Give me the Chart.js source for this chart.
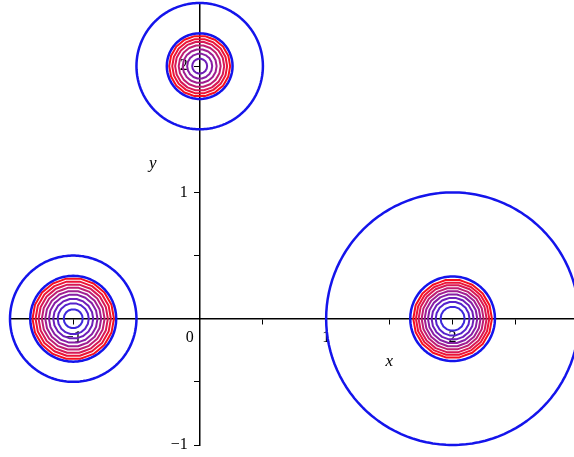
<!DOCTYPE html>
<html>
<head>
<meta charset="utf-8">
<script src="https://cdn.jsdelivr.net/npm/chart.js@4/dist/chart.umd.min.js"></script>
<style>
  html, body { margin: 0; padding: 0; background: #ffffff; }
  #c { display: block; }
</style>
</head>
<body>
<canvas id="c" width="574" height="457"></canvas>
<script>
// ---- data ----
const centersX = [0, -1, 2];
const centersY = [2, 0, 0];
const outerRadii = [0.5, 0.5, 1.0];           // large blue circles
const innerRadii = [0.26, 0.34, 0.335];       // small blue circles
// contour radii around each centre (innermost first)
const contourRadiiA = [0.059, 0.099, 0.134, 0.166, 0.194, 0.217, 0.241];               // around (0,2)
const contourRadiiB = [0.075, 0.123, 0.158, 0.192, 0.221, 0.248, 0.274, 0.298, 0.322]; // around (-1,0)
const contourRadiiC = [0.095, 0.134, 0.166, 0.195, 0.221, 0.245, 0.269, 0.290, 0.311]; // around (2,0)
const contourLevelStart = [2, 0, 0];          // first contour level reached by each peak
const levelColors = ["rgb(60,40,220)", "rgb(85,35,205)", "rgb(110,30,185)", "rgb(135,30,165)",
  "rgb(160,30,145)", "rgb(190,30,115)", "rgb(215,25,85)", "rgb(235,20,55)", "rgb(245,15,30)"];
const xTickLabels = { "-1": "\u22121", "0": "0\u00a0\u00a0\u00a0\u00a0\u00a0", "1": "1", "2": "2" };
const yTickLabels = { "-1": "\u22121\u00a0\u00a0\u00a0", "1": "1\u00a0\u00a0\u00a0", "2": "2\u00a0\u00a0\u00a0" };
const xAxisTitle = "x";
const yAxisTitle = "y";

// ---- geometry helpers ----
function circlePoints(cx, cy, r, n) {
  const pts = [];
  for (let i = 0; i <= n + 1; i++) {
    const t = (i / n) * 2 * Math.PI;
    pts.push({ x: cx + r * Math.cos(t), y: cy + r * Math.sin(t) });
  }
  return pts;
}

const datasets = [];
const blue = "rgb(20,20,235)";
for (let k = 0; k < centersX.length; k++) {
  datasets.push({ data: circlePoints(centersX[k], centersY[k], outerRadii[k], 120),
    borderColor: blue, borderWidth: 2.5, showLine: true, pointRadius: 0, clip: false });
}
for (let k = 0; k < centersX.length; k++) {
  datasets.push({ data: circlePoints(centersX[k], centersY[k], innerRadii[k], 60),
    borderColor: blue, borderWidth: 2.5, showLine: true, pointRadius: 0, clip: false });
}
const contourSets = [contourRadiiA, contourRadiiB, contourRadiiC];
for (let k = 0; k < centersX.length; k++) {
  contourSets[k].forEach((r, i) => {
    datasets.push({ data: circlePoints(centersX[k], centersY[k], r, 18),
      borderColor: levelColors[contourLevelStart[k] + i], borderWidth: 2,
      showLine: true, pointRadius: 0, clip: false });
  });
}

const tickFont = { family: "'Liberation Serif', 'Times New Roman', serif", size: 16 };
function zeroPad(scale) { scale.paddingLeft = 0; scale.paddingRight = 0; scale.paddingTop = 0; scale.paddingBottom = 0; }

const axisTitles = {
  id: 'axisTitles',
  afterDraw(chart) {
    const ctx = chart.ctx, xs = chart.scales.x, ys = chart.scales.y;
    ctx.save();
    ctx.fillStyle = '#000';
    ctx.font = "italic 17px 'Liberation Serif', serif";
    ctx.textAlign = 'center';
    ctx.textBaseline = 'middle';
    ctx.fillText(xAxisTitle, xs.getPixelForValue(1.5), ys.getPixelForValue(-0.34));
    ctx.fillText(yAxisTitle, xs.getPixelForValue(-0.37), ys.getPixelForValue(1.23));
    ctx.restore();
  }
};

new Chart(document.getElementById('c'), {
  type: 'scatter',
  data: { datasets },
  options: {
    responsive: false,
    animation: false,
    events: [],
    layout: { padding: { left: 10, right: 0, top: 3, bottom: 12 } },
    plugins: { legend: { display: false }, tooltip: { enabled: false } },
    elements: { line: { tension: 0.0001, fill: false, borderJoinStyle: 'round' } },
    scales: {
      x: {
        type: 'linear', min: -1.5, max: 2.96, position: { y: 0 }, z: 1,
        afterFit: zeroPad,
        border: { display: true, color: '#000', width: 1.5 },
        grid: { display: true, drawOnChartArea: false, drawTicks: true, tickLength: 5, color: '#000', lineWidth: 1 },
        ticks: { stepSize: 0.5, includeBounds: false, autoSkip: false, maxRotation: 0, color: '#000', font: tickFont, padding: 4,
          callback: (v) => (Number.isInteger(v) && xTickLabels[String(v)] !== undefined) ? xTickLabels[String(v)] : '' }
      },
      y: {
        type: 'linear', min: -1, max: 2.5, position: { x: 0 }, z: 1,
        afterFit: zeroPad,
        border: { display: true, color: '#000', width: 1.5 },
        grid: { display: true, drawOnChartArea: false, drawTicks: true, tickLength: 5, color: '#000', lineWidth: 1 },
        ticks: { stepSize: 0.5, includeBounds: false, autoSkip: false, color: '#000', font: tickFont, padding: 8,
          callback: (v) => (Number.isInteger(v) && yTickLabels[String(v)] !== undefined) ? yTickLabels[String(v)] : '' }
      }
    }
  },
  plugins: [axisTitles]
});
</script>
</body>
</html>
